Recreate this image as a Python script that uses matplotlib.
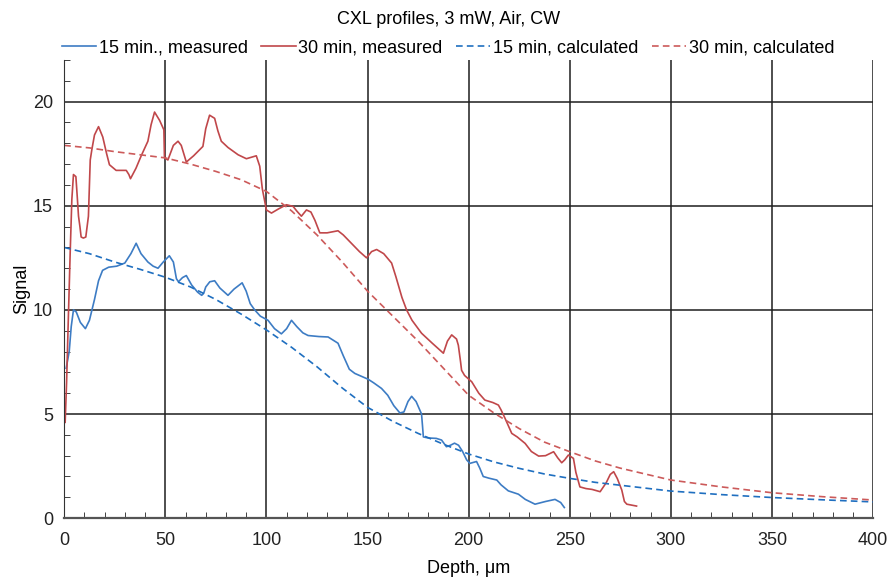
import numpy as np
import matplotlib
matplotlib.use("Agg")
import matplotlib.pyplot as plt
from matplotlib.ticker import MultipleLocator

plt.rcParams["font.family"] = ["Liberation Sans", "DejaVu Sans"]

# measured profiles (depth in um, signal)
depth_15m = [1, 2.5, 3.5, 4.6, 6, 8, 10.5, 12.5, 15, 17, 19, 22, 26, 30, 33, 35.6, 38, 41.4,
             44, 46.4, 49, 52, 54, 55.5, 56.5, 58.5, 60.4, 63, 66, 68, 69, 70, 72, 74.4, 77,
             81, 84, 88, 90, 92, 94.2, 97, 100.8, 104, 107.4, 110, 112.4, 115, 118, 120.6,
             126, 130.5, 135.4, 138, 141, 143.7, 150.3, 153, 156.9, 160, 163, 166, 168, 170,
             171.8, 174, 176.7, 177.2, 177.6, 180, 184, 186.6, 189, 191, 193, 195, 197, 199,
             200.6, 203.9, 205.5, 207.2, 210, 213.9, 216, 219.6, 224.6, 228, 232.8, 238,
             242.7, 245.5, 247.3]
sig_15m = [7.2, 8.0, 9.2, 10.0, 9.9, 9.4, 9.1, 9.5, 10.5, 11.4, 11.9, 12.05, 12.1, 12.25, 12.7,
           13.2, 12.7, 12.3, 12.1, 12.0, 12.3, 12.6, 12.3, 11.5, 11.35, 11.55, 11.65, 11.2,
           10.85, 10.7, 10.8, 11.1, 11.35, 11.4, 11.05, 10.7, 11.0, 11.3, 10.9, 10.3, 10.0,
           9.7, 9.5, 9.1, 8.85, 9.1, 9.5, 9.2, 8.9, 8.77, 8.72, 8.7, 8.4, 7.8, 7.15, 6.95,
           6.67, 6.5, 6.23, 5.9, 5.4, 5.05, 5.1, 5.6, 5.85, 5.6, 5.0, 4.4, 3.9, 3.85, 3.83,
           3.75, 3.43, 3.5, 3.6, 3.5, 3.2, 2.8, 2.63, 2.72, 2.4, 2.0, 1.92, 1.83, 1.6, 1.31,
           1.15, 0.9, 0.67, 0.8, 0.9, 0.75, 0.51]

depth_30m = [0.5, 1.2, 2.1, 3, 3.8, 4.6, 5.8, 6.5, 7.1, 7.8, 8.4, 9.5, 10.7, 12, 12.9, 13.7,
             15, 17, 19.1, 21, 22.4, 25.7, 30.7, 32, 32.8, 35.5, 38.1, 41.4, 43, 44.7, 47.2,
             49.3, 49.6, 51.3, 54, 56.3, 57.9, 60.4, 64, 68.6, 70, 71.9, 74.4, 76, 77.7, 81,
             86, 90.1, 95, 96.7, 98, 100, 102.5, 106, 109.9, 113.2, 115, 117.3, 119.8, 122,
             124, 126.4, 130, 135.4, 138, 142, 146, 149.5, 152, 154.5, 158, 161.9, 164, 167,
             169.3, 172, 176.7, 182, 187.5, 189.5, 191.6, 194, 194.9, 196, 196.5, 198, 201.5,
             205, 208, 212, 214.7, 216, 218, 221.3, 224, 227.9, 231, 234.6, 238, 242, 244,
             246, 247.5, 249.3, 251.8, 253, 255, 258, 261, 265, 268, 270, 271.7, 273.5,
             275.7, 277, 278.2, 283]
sig_30m = [4.6, 6.5, 9.7, 12.8, 15.3, 16.5, 16.4, 15.4, 14.5, 14.0, 13.5, 13.45, 13.5, 14.5,
           17.2, 17.7, 18.4, 18.8, 18.3, 17.5, 16.97, 16.7, 16.7, 16.5, 16.3, 16.8, 17.4,
           18.1, 18.9, 19.5, 19.1, 18.65, 17.3, 17.2, 17.9, 18.1, 17.9, 17.1, 17.4, 17.85,
           18.7, 19.35, 19.2, 18.6, 18.1, 17.8, 17.45, 17.26, 17.4, 16.9, 15.8, 14.8, 14.65,
           14.85, 15.05, 14.97, 14.75, 14.5, 14.8, 14.7, 14.3, 13.7, 13.7, 13.8, 13.6, 13.2,
           12.8, 12.5, 12.8, 12.9, 12.7, 12.25, 11.6, 10.6, 10.0, 9.5, 8.88, 8.4, 7.92, 8.5,
           8.8, 8.6, 8.3, 7.5, 7.1, 6.85, 6.55, 6.0, 5.67, 5.55, 5.43, 5.2, 4.79, 4.07, 3.9,
           3.59, 3.2, 2.98, 3.0, 3.19, 2.9, 2.66, 2.8, 3.03, 2.87, 2.2, 1.5, 1.42, 1.38,
           1.27, 1.7, 2.1, 2.23, 1.9, 1.35, 0.8, 0.67, 0.58]

# calculated profiles
depth_calc = [0, 12.5, 25, 37.5, 50, 62.5, 75, 87.5, 100, 112.5, 125, 137.5, 150, 162.5,
              175, 187.5, 200, 212.5, 225, 237.5, 250, 262.5, 275, 300, 325, 350, 375, 400]
calc_15m = [13.0, 12.7, 12.3, 11.95, 11.57, 11.1, 10.5, 9.8, 9.04, 8.2, 7.27, 6.25, 5.32,
            4.65, 4.07, 3.55, 3.08, 2.7, 2.39, 2.12, 1.91, 1.72, 1.58, 1.3, 1.13, 0.99,
            0.88, 0.78]
calc_30m = [17.9, 17.78, 17.6, 17.45, 17.3, 17.0, 16.65, 16.25, 15.69, 14.75, 13.6, 12.3,
            10.9, 9.7, 8.5, 7.2, 5.9, 5.05, 4.3, 3.65, 3.19, 2.75, 2.4, 1.83, 1.5, 1.22,
            1.03, 0.87]

blue = "#3d7cc4"
red = "#c0474a"

fig = plt.figure(figsize=(8.91, 5.77), dpi=100)
ax = fig.add_axes([0.072, 0.102, 0.908, 0.794])

ax.plot(depth_15m, sig_15m, color=blue, lw=1.2, solid_joinstyle="round", label="15 min., measured")
ax.plot(depth_30m, sig_30m, color=red, lw=1.2, solid_joinstyle="round", label="30 min, measured")
ax.plot(depth_calc, calc_15m, color="#1f6fc0", lw=1.2, ls=(0, (4, 2.5)), label="15 min, calculated")
ax.plot(depth_calc, calc_30m, color="#cc5a5a", lw=1.2, ls=(0, (4, 2.5)), label="30 min, calculated")

ax.set_xlim(0, 400)
ax.set_ylim(0, 22)
ax.xaxis.set_major_locator(MultipleLocator(50))
ax.xaxis.set_minor_locator(MultipleLocator(10))
ax.yaxis.set_major_locator(MultipleLocator(5))
ax.yaxis.set_minor_locator(MultipleLocator(1))
ax.grid(True, which="major", color="#1e1e1e", lw=1.1)
ax.set_axisbelow(True)
ax.tick_params(which="both", direction="in", labelsize=13, colors="#222222")
ax.tick_params(axis="x", which="major", length=0, pad=10)
ax.tick_params(axis="y", which="major", length=0, pad=8)
ax.tick_params(which="minor", length=4)

for s in ["top", "right"]:
    ax.spines[s].set_visible(False)
ax.spines["left"].set_color("#333333")
ax.spines["bottom"].set_color("#555555")
ax.spines["bottom"].set_linewidth(1.6)

ax.set_xlabel("Depth, μm", fontsize=13, labelpad=8)
ax.set_ylabel("Signal", fontsize=13, labelpad=2)

fig.text(0.503, 0.966, "CXL profiles, 3 mW, Air, CW", ha="center", va="center", fontsize=13)
fig.legend(loc="center", bbox_to_anchor=(0.503, 0.917), ncol=4, frameon=False, fontsize=13,
           handlelength=1.9, handletextpad=0.15, columnspacing=0.75, borderaxespad=0)

fig.savefig("out.png", dpi=100)
